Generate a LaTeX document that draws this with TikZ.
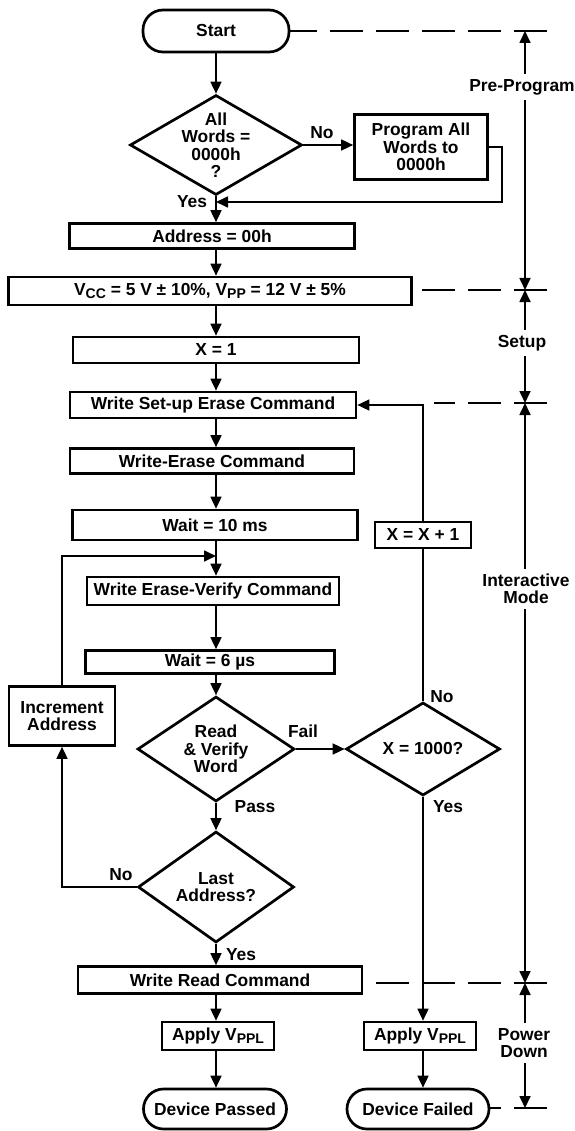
\documentclass[tikz,border=0pt]{standalone}
\usepackage{fontspec}
\setmainfont{Liberation Sans}
\usetikzlibrary{arrows.meta,shapes.geometric}
\newcommand\lowtxt[1]{\raisebox{-3pt}{\fontsize{14}{14}\selectfont #1}}
\begin{document}
\begin{tikzpicture}[x=1pt,y=-1pt,
  every node/.style={font=\fontsize{17.4}{17.5}\selectfont\bfseries},
  box/.style={draw,line width=2.7pt,rectangle,inner sep=0pt,align=center},
  term/.style={draw,line width=2.7pt,rectangle,rounded corners=20pt,inner sep=0pt},
  dia/.style={draw,line width=2.7pt,diamond,inner sep=0pt},
  lbl/.style={align=center,inner sep=0pt},
  conn/.style={line width=1.7pt},
  arr/.style={conn,-{Triangle[length=12pt,width=11pt]}},
  dsh/.style={line width=1.7pt,dash pattern=on 33pt off 13pt},
  dim/.style={line width=1.7pt,{Triangle[length=12pt,width=11pt]}-{Triangle[length=12pt,width=11pt]}},
  dimlbl/.style={fill=white,align=center,inner ysep=5pt,inner xsep=1pt}]
\useasboundingbox (0,0) rectangle (574,1131);
\coordinate (mx) at (216,0);
% main column
\node[term,minimum width=146pt,minimum height=42pt] (start) at (216,31) {Start};
\node[dia,minimum width=172pt,minimum height=100pt,
  label={[lbl]center:All\\Words =\\0000h\\?}] (d1) at (216,145) {};
\node[box,minimum width=133pt,minimum height=65pt] (prog) at (421,147) {Program All\\Words to\\0000h};
\node[box,minimum width=285pt,minimum height=25pt] (addr) at (212,236) {Address = 00h};
\node[box,minimum width=403pt,minimum height=28pt] (vcc) at (210,291)
  {V\lowtxt{CC} = 5 V ± 10\%, V\lowtxt{PP} = 12 V ± 5\%};
\node[box,minimum width=286pt,minimum height=26pt] (x1) at (216,350) {X = 1};
\node[box,minimum width=286pt,minimum height=26pt] (wsu) at (213,405) {Write Set-up Erase Command};
\node[box,minimum width=284pt,minimum height=25pt] (we) at (212,461) {Write-Erase Command};
\node[box,minimum width=285pt,minimum height=30pt] (w10) at (215,525) {Wait = 10 ms};
\node[box,minimum width=96pt,minimum height=26pt] (xx1) at (423,535) {X = X + 1};
\node[box,minimum width=252pt,minimum height=28pt] (wev) at (213,591) {Write Erase-Verify Command};
\node[box,minimum width=249pt,minimum height=23pt] (w6) at (210,662) {Wait = 6 µs};
\node[dia,minimum width=157pt,minimum height=105pt,
  label={[lbl]center:Read\\\& Verify\\Word}] (d2) at (216,749) {};
\node[dia,minimum width=154pt,minimum height=93pt,
  label={[lbl]center:X = 1000?}] (d3) at (423,749) {};
\node[box,minimum width=106pt,minimum height=59pt] (inc) at (62,716) {Increment\\Address};
\node[dia,minimum width=156pt,minimum height=111pt,
  label={[lbl]center:Last\\Address?}] (d4) at (216,887) {};
\node[box,minimum width=284pt,minimum height=27pt] (wrc) at (220,980) {Write Read Command};
\node[box,minimum width=112pt,minimum height=28pt] (ap1) at (218,1036) {Apply V\lowtxt{PPL}};
\node[box,minimum width=112pt,minimum height=28pt] (ap2) at (420,1036) {Apply V\lowtxt{PPL}};
\node[term,minimum width=143pt,minimum height=40pt] (dp) at (215,1109) {Device Passed};
\node[term,minimum width=142pt,minimum height=40pt] (df) at (418,1109) {Device Failed};
% connector labels
\node[lbl] (lno1) at (322,133) {No};
\node[lbl] (lyes1) at (192,202) {Yes};
\node[lbl] (lfail) at (303,731) {Fail};
\node[lbl] (lpass) at (255,807) {Pass};
\node[lbl] (lno3) at (442,697) {No};
\node[lbl] (lyes3) at (448,807) {Yes};
\node[lbl] (lno4) at (121,875) {No};
\node[lbl] (lyes4) at (241,955) {Yes};
% connectors main
\draw[arr] (start.south) -- (d1.north);
\draw[arr] (d1.east) -- (prog.west |- d1.east);
\coordinate (pr) at (502,202);
\coordinate (j1) at (216,202);
\draw[arr] (prog.east) -| (pr) -- (j1);
\draw[arr] (d1.south) -- (addr.north -| mx);
\draw[arr] (addr.south -| mx) -- (vcc.north -| mx);
\draw[arr] (vcc.south -| mx) -- (x1.north -| mx);
\draw[arr] (x1.south -| mx) -- (wsu.north -| mx);
\draw[arr] (wsu.south -| mx) -- (we.north -| mx);
\draw[arr] (we.south -| mx) -- (w10.north -| mx);
\draw[arr] (w10.south -| mx) -- (wev.north -| mx);
\draw[arr] (wev.south -| mx) -- (w6.north -| mx);
\draw[arr] (w6.south -| mx) -- (d2.north);
\draw[arr] (d2.south) -- (d4.north);
\draw[arr] (d4.south) -- (wrc.north -| mx);
\draw[arr] (wrc.south -| mx) -- (ap1.north -| mx);
\draw[arr] (ap1.south -| mx) -- (dp.north -| mx);
% side loops
\draw[arr] (d2.east) -- (d3.west);
\draw[conn] (d3.north) -- (xx1.south -| d3.north);
\draw[arr] (xx1.north -| d3.north) |- (wsu.east);
\draw[arr] (d3.south) -- (ap2.north -| d3.south);
\draw[arr] (ap2.south -| d3.south) -- (df.north -| d3.south);
\draw[arr] (d4.west) -| (inc.south);
\coordinate (fb) at (216,556);
\draw[arr] (inc.north) |- (fb);
% dashed phase lines
\coordinate (e0) at (547,31);
\coordinate (e1) at (547,290);
\coordinate (e2) at (547,403);
\coordinate (e2s) at (434,403);
\coordinate (e3) at (547,983);
\coordinate (e3s) at (373,983);
\coordinate (e4) at (547,1108);
\draw[dsh] (e0) -- (start.east |- e0);
\draw[dsh] (e1) -- (vcc.east |- e1);
\draw[dsh] (e2) -- (e2s);
\draw[dsh] (e3) -- (e3s);
\draw[dsh] (e4) -- (df.east |- e4);
% dimension line
\coordinate (r0) at (525,31);
\coordinate (r1) at (525,290);
\coordinate (r2) at (525,403);
\coordinate (r3) at (525,983);
\coordinate (r4) at (525,1108);
\draw[dim] (r1) -- (r0);
\draw[dim] (r1) -- (r2);
\draw[dim] (r3) -- (r2);
\draw[dim] (r3) -- (r4);
\node[dimlbl] (lpre) at (522,87) {Pre-Program};
\node[dimlbl] (lset) at (522,343) {Setup};
\node[dimlbl] (lint) at (526,589) {Interactive\\Mode};
\node[dimlbl] (lpow) at (524,1043) {Power\\Down};
\end{tikzpicture}
\end{document}
